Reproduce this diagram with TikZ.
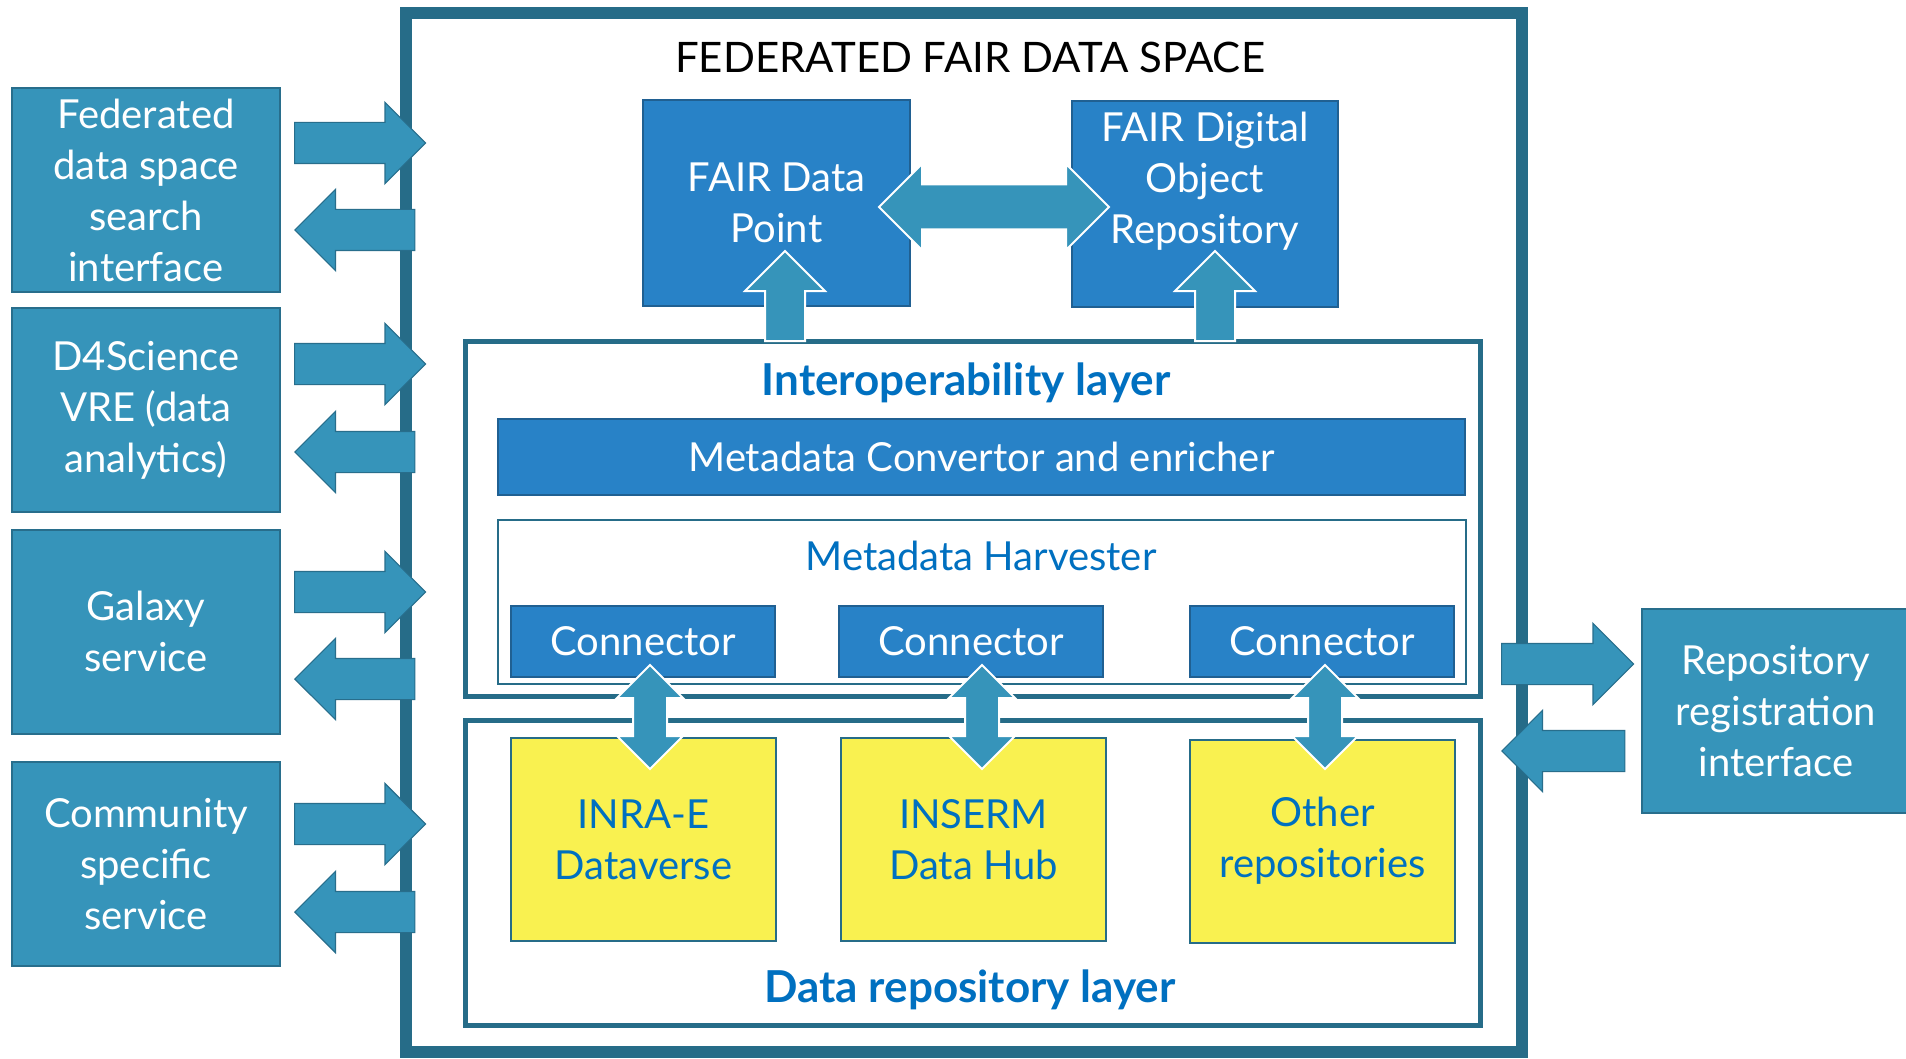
\documentclass[tikz,border=0pt]{standalone}
\usepackage{fontspec}
\setmainfont{Lato}
\usepackage{tikz}
\usetikzlibrary{shapes.arrows, positioning, calc}

\definecolor{tealbox}{RGB}{54,148,186}
\definecolor{tealedge}{RGB}{40,110,140}
\definecolor{frameteal}{RGB}{38,108,136}
\definecolor{fairblue}{RGB}{40,130,199}
\definecolor{fairedge}{RGB}{32,96,146}
\definecolor{repoyellow}{RGB}{249,241,80}
\definecolor{layerblue}{RGB}{0,112,192}

\begin{document}
\begin{tikzpicture}[x=0.5pt, y=-0.5pt,
  every node/.style={font=\fontsize{20}{25.5}\selectfont, align=center, inner sep=0pt},
  sidebox/.style={draw=tealedge, line width=1pt, fill=tealbox, text=white, minimum width=134pt, minimum height=102pt},
  fairbox/.style={draw=fairedge, line width=1pt, fill=fairblue, text=white},
  repobox/.style={draw=frameteal, line width=1pt, fill=repoyellow, text=layerblue, minimum width=132.5pt, minimum height=101.5pt},
  layerbox/.style={draw=frameteal, line width=2.5pt, minimum width=507.5pt},
  layertitle/.style={font=\fontsize{22}{26}\selectfont\bfseries, text=layerblue},
  outarrow/.style={single arrow, draw=tealedge, line width=0.6pt, fill=tealbox, inner sep=10pt, single arrow head extend=10pt, single arrow tip angle=90, anchor=tail},
  inarrow/.style={outarrow, shape border rotate=180, anchor=tip},
  linkarrow/.style={fill=tealbox, draw=white, line width=1pt}
]
\fill[white] (0,0) rectangle (1906,1059);
\useasboundingbox (0,0) rectangle (1906,1059);

% Data space frame
\node[draw=frameteal, line width=6pt, minimum width=558pt, minimum height=519.5pt] (space) at (964,532.5) {};
\node[font=\fontsize{21}{25}\selectfont] (spacetitle) at (970,57) {FEDERATED FAIR DATA SPACE};

% FAIR services
\node[fairbox, minimum width=133.5pt, minimum height=103pt] (fdp) at (776.5,203) {FAIR Data\\Point};
\node[fairbox, minimum width=133pt, minimum height=103pt] (fdo) at (1205,204) {};
\node[text=white] (fdotext) at (1205,181) {FAIR Digital\\Object\\Repository};

% Interoperability layer
\node[layerbox, minimum height=177.5pt] (interop) at (973,518.5) {};
\node[layertitle] (interoptitle) at (966,383) {Interoperability layer};
\node[fairbox, minimum width=483.5pt, minimum height=38pt] (convertor) at (981.5,457) {Metadata Convertor and enricher};
\node[draw=frameteal, line width=1pt, minimum width=484pt, minimum height=82pt] (harvester) at (982,602) {};
\node[text=layerblue] (harvestertitle) at (981,556) {Metadata Harvester};
\foreach \i/\x in {1/643, 2/971, 3/1322}
  \node[fairbox, minimum width=132pt, minimum height=35.5pt] (conn\i) at (\x,641) {Connector};

% Data repository layer
\node[layerbox, minimum height=152.5pt] (datalayer) at (973,872.5) {};
\node[layertitle] (datatitle) at (970,990) {Data repository layer};
\node[repobox] (repo1) at (643.5,839.5) {INRA-E\\Dataverse};
\node[repobox] (repo2) at (973.5,839.5) {INSERM\\Data Hub};
\node[repobox] (repo3) at (1322.5,841) {Other\\repositories};

% Outside services
\node[sidebox] (fed) at (146,190.5) {Federated\\data space\\search\\interface};
\node[sidebox] (d4s) at (146,410) {D4Science\\VRE (data\\analytics)};
\node[sidebox] (gal) at (146,631.5) {Galaxy\\service};
\node[sidebox] (com) at (146,864) {Community\\specific\\service};
\node[sidebox, minimum width=134pt] (reg) at (1776,711) {Repository\\registration\\interface};

% Arrows to and from the frame
\foreach \n/\ya/\yb in {fed/143/230, d4s/364/452, gal/592/679, com/824/912} {
  \node[outarrow, minimum height=65.5pt] (\n-out) at (294,\ya) {};
  \node[inarrow, minimum height=60pt] (\n-in) at (294,\yb) {};
}
\node[outarrow, minimum height=66pt] (reg-out) at (1501,664) {};
\node[inarrow, minimum height=61.5pt] (reg-in) at (1501,751) {};

% Arrows inside the frame
\node[linkarrow, double arrow, inner sep=10.75pt, minimum height=115pt, double arrow head extend=10.25pt, double arrow tip angle=90] (fdp-fdo) at (994,207) {};
\foreach \x/\n in {785/fdp, 1215/fdo}
  \node[linkarrow, single arrow, shape border rotate=90, inner sep=9.5pt, minimum height=45pt, single arrow head extend=10pt, single arrow tip angle=90, anchor=tail] (up-\n) at (\x,342) {};
\foreach \i/\x in {1/650, 2/982, 3/1325}
  \node[linkarrow, double arrow, shape border rotate=90, inner sep=8pt, minimum height=52pt, double arrow head extend=8pt, double arrow tip angle=90] (link\i) at (\x,717) {};
\end{tikzpicture}
\end{document}
